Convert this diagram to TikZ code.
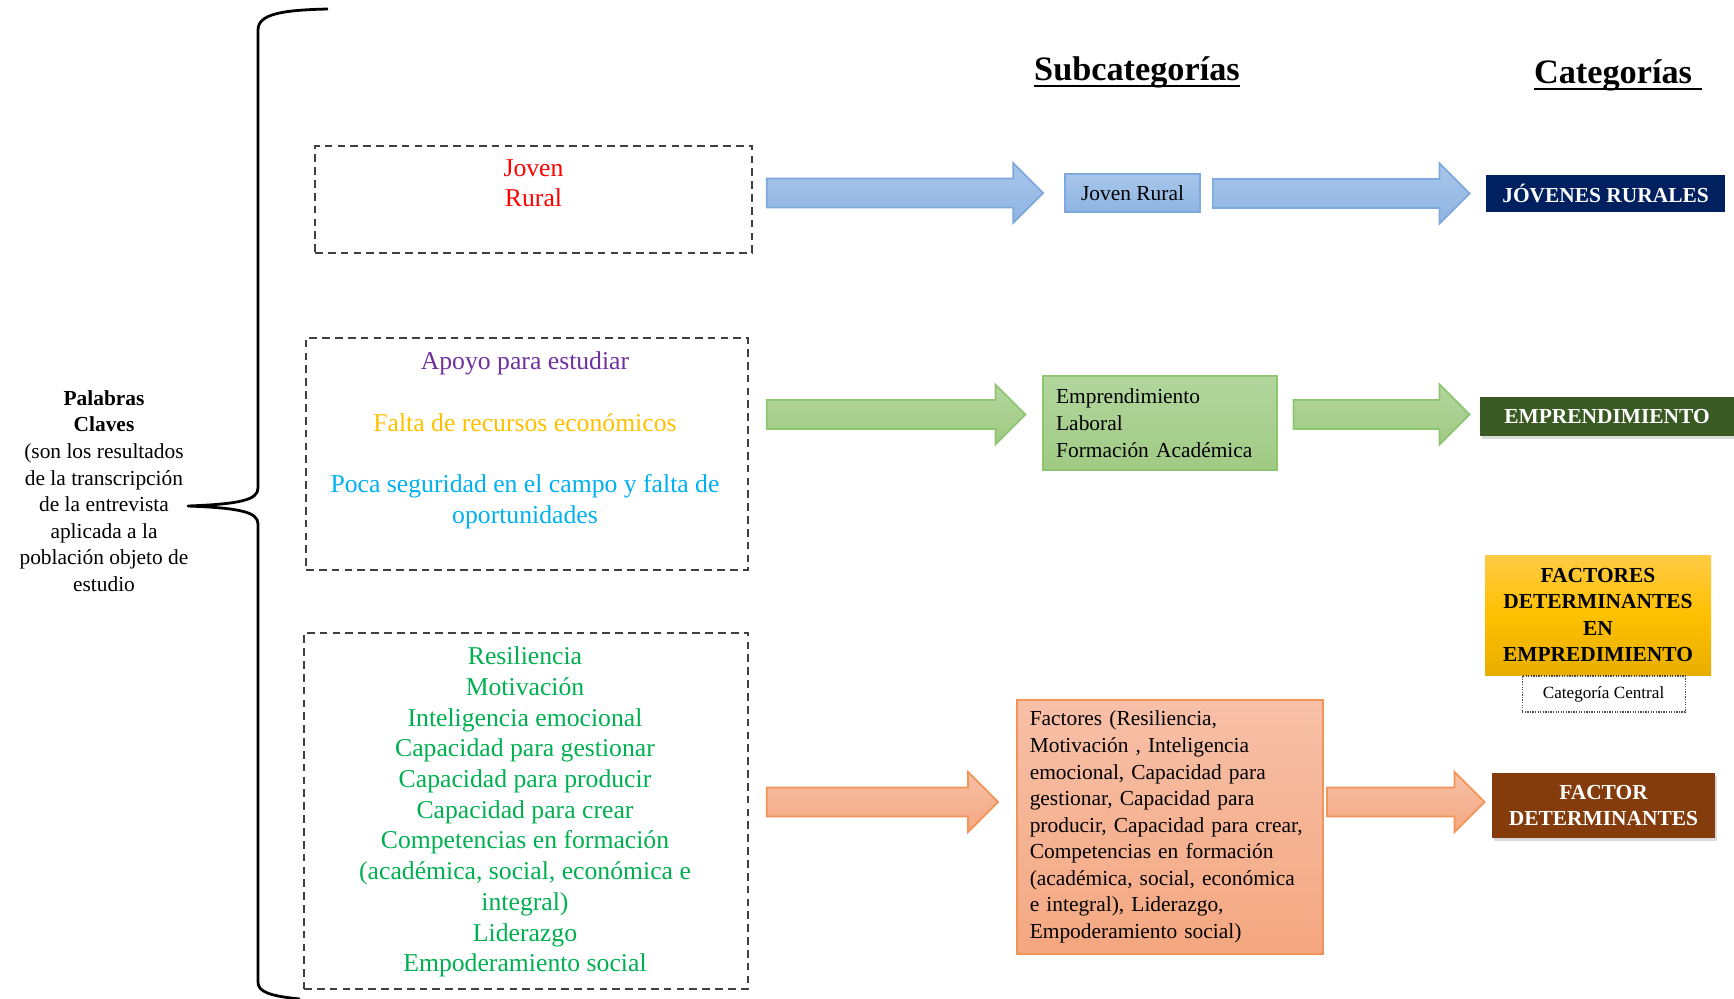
\documentclass[tikz,border=0pt]{standalone}
\usepackage{fontspec}
\setmainfont{Liberation Serif}
\usetikzlibrary{positioning,calc,fit,shadows}
\newcommand{\pxu}{0.467pt}
\definecolor{arrblue}{HTML}{A8C6EA}
\definecolor{arrbluedk}{HTML}{8EB4E2}
\definecolor{lineblue}{HTML}{7FA8DC}
\definecolor{arrgreen}{HTML}{B2D69D}
\definecolor{arrgreendk}{HTML}{A0CA84}
\definecolor{linegreen}{HTML}{8EC572}
\definecolor{arrsalmon}{HTML}{F7C0A8}
\definecolor{arrsalmondk}{HTML}{F4A780}
\definecolor{linesalmon}{HTML}{F29457}
\definecolor{catnavy}{HTML}{002060}
\definecolor{catgreen}{HTML}{3A5A24}
\definecolor{catbrown}{HTML}{843C0C}
\definecolor{catgold}{HTML}{FFC000}
\definecolor{catgoldlt}{HTML}{FFCB45}
\definecolor{catgolddk}{HTML}{E8AE00}
\definecolor{kwred}{HTML}{FF0000}
\definecolor{kwpurple}{HTML}{7030A0}
\definecolor{kwgold}{HTML}{FFC000}
\definecolor{kwcyan}{HTML}{00B0F0}
\definecolor{kwgreen}{HTML}{00B050}
\tikzset{
  title/.style={font=\fontsize{16}{19}\selectfont\bfseries, inner sep=0pt, anchor=base},
  dashbox/.style={draw=black!75, line width=0.7pt, dash pattern=on 3.6pt off 2.4pt, inner sep=0pt},
  kwtext/.style={align=center, inner sep=0pt, font=\fontsize{12}{14.4}\selectfont},
  lefttext/.style={align=center, inner sep=0pt, font=\fontsize{10}{12.4}\selectfont},
  subbox/.style={rectangle, line width=0.8pt, inner xsep=6pt, font=\fontsize{10}{12.5}\selectfont},
  catbox/.style={rectangle, text=white, align=center, inner sep=0pt, font=\fontsize{10}{12.4}\selectfont\bfseries},
  centralbox/.style={rectangle, draw=black!70, line width=0.5pt, dash pattern=on 0.6pt off 0.6pt, font=\fontsize{8}{10}\selectfont, inner sep=0pt},
  catshadow/.style={drop shadow={shadow xshift=1pt, shadow yshift=-1.5pt, opacity=0.3}},
  bluearrow/.style={draw=lineblue, line width=0.8pt, top color=arrblue, bottom color=arrbluedk},
  greenarrow/.style={draw=linegreen, line width=0.8pt, top color=arrgreen, bottom color=arrgreendk},
  salmonarrow/.style={draw=linesalmon, line width=0.8pt, top color=arrsalmon, bottom color=arrsalmondk}
}
\newcommand{\blockarrow}[3]{\path[#3] ($(#1)+(0,-14.5)$) -- ($(#2)+(-30,-14.5)$) -- ($(#2)+(-30,-30)$) -- (#2)
  -- ($(#2)+(-30,30)$) -- ($(#2)+(-30,14.5)$) -- ($(#1)+(0,14.5)$) -- cycle;}

\begin{document}
\begin{tikzpicture}[x=\pxu, y=-\pxu]
	\useasboundingbox (0,0) rectangle (1734,998);
	% titles
	\node[title] (subt) at (1137,80) {Subcategorías};
	\node[title] (catt) at (1613,83) {Categorías};
	\draw[line width=0.9pt] ($(subt.base west)+(0,6)$) -- ($(subt.base east)+(0,6)$);
	\draw[line width=0.9pt] ($(catt.base west)+(0,6)$) -- ($(catt.base east)+(10,6)$);
	% brace and key words
	\node[lefttext] (kwlab) at (104,491) {\textbf{Palabras}\\\textbf{Claves}\\(son los resultados\\de la transcripción\\de la entrevista\\aplicada a la\\población objeto de\\estudio};
	\draw[line width=1.3pt, line join=round] (328,9) .. controls (282,10) and (258,14) .. (258,30) -- (258,488)
		.. controls (258,500) and (240,504) .. (188,506) .. controls (240,508) and (258,512) .. (258,524)
		-- (258,982) .. controls (258,992) and (270,996) .. (300,999);
	\node[dashbox, fit={(315,146) (752,253)}] (kw1) {};
	\node[dashbox, fit={(306,338) (748,570)}] (kw2) {};
	\node[dashbox, fit={(304,633) (748,989)}] (kw3) {};
	\node[kwtext, text=kwred] (kw1t) at ($(kw1.north)+(0,38)$) {Joven\\Rural};
	\node[kwtext] (kw2t) at ($(kw2.north)+(-2,103)$) {\color{kwpurple}Apoyo para estudiar\\[14.4pt]\color{kwgold}Falta de recursos económicos\\[14.4pt]\color{kwcyan}Poca seguridad en el campo y falta de\\\color{kwcyan}oportunidades};
	\node[kwtext, text=kwgreen, font=\fontsize{12}{14.35}\selectfont] (kw3t) at ($(kw3.center)+(-1,1)$) {Resiliencia\\Motivación\\Inteligencia emocional\\Capacidad para gestionar\\Capacidad para producir\\Capacidad para crear\\Competencias en formación\\(académica, social, económica e\\integral)\\Liderazgo\\Empoderamiento social};
	% subcategories
	\node[subbox, draw=lineblue, top color=arrblue, bottom color=arrbluedk, minimum width={135*\pxu}, minimum height={38*\pxu}] (sub1) at (1132.5,193) {Joven Rural};
	\node[subbox, draw=linegreen, top color=arrgreen, bottom color=arrgreendk, text width=97pt, align=left, minimum height={94*\pxu}] (sub2) at (1160,423) {Emprendimiento\\Laboral\\Formación Académica};
	\node[subbox, draw=linesalmon, top color=arrsalmon, bottom color=arrsalmondk, text width=131pt, align=left, font=\fontsize{10}{12.4}\selectfont, minimum height={254*\pxu}] (sub3) at (1170,827) {Factores (Resiliencia,\\Motivación , Inteligencia\\emocional, Capacidad para\\gestionar, Capacidad para\\producir, Capacidad para crear,\\Competencias en formación\\(académica, social, económica\\e integral), Liderazgo,\\Empoderamiento social)};
	% categories
	\node[catbox, fill=catnavy, minimum width={239*\pxu}, minimum height={37*\pxu}] (cat1) at (1605.5,193.5) {JÓVENES RURALES};
	\node[catbox, fill=catgreen, catshadow, minimum width={254*\pxu}, minimum height={39*\pxu}] (cat2) at (1607,416.5) {EMPRENDIMIENTO};
	\node[catbox, text=black, top color=catgoldlt, bottom color=catgolddk, middle color=catgold, minimum width={226*\pxu}, minimum height={120*\pxu}] (cat3) at (1598,615) {FACTORES\\DETERMINANTES\\EN\\EMPREDIMIENTO};
	\node[centralbox, below=0pt of cat3, xshift=2.6pt, minimum width={163*\pxu}, minimum height={36*\pxu}] (catc) {Categoría Central};
	\node[catbox, fill=catbrown, catshadow, minimum width={223*\pxu}, minimum height={65*\pxu}] (cat4) at (1603.5,805.5) {FACTOR\\DETERMINANTES};
	% block arrows
	\coordinate (a1e) at ($(sub1.west)+(-21,0)$);
	\coordinate (a1s) at ($(kw1.east |- a1e)+(14,0)$);
	\coordinate (a2e) at ($(cat1.west)+(-16,0)$);
	\coordinate (a2s) at ($(sub1.east |- a2e)+(12,0)$);
	\coordinate (b1e) at ($(sub2.west |- cat2.west)+(-17,-2)$);
	\coordinate (b1s) at ($(kw2.east |- b1e)+(18,0)$);
	\coordinate (b2e) at ($(cat2.west)+(-10,-2)$);
	\coordinate (b2s) at ($(sub2.east |- b2e)+(16,0)$);
	\coordinate (c1e) at ($(sub3.west |- cat4.west)+(-18,-3.5)$);
	\coordinate (c1s) at ($(kw3.east |- c1e)+(18,0)$);
	\coordinate (c2e) at ($(cat4.west)+(-7,-3.5)$);
	\coordinate (c2s) at ($(sub3.east |- c2e)+(3,0)$);
	\blockarrow{a1s}{a1e}{bluearrow} \blockarrow{a2s}{a2e}{bluearrow}
	\blockarrow{b1s}{b1e}{greenarrow} \blockarrow{b2s}{b2e}{greenarrow}
	\blockarrow{c1s}{c1e}{salmonarrow} \blockarrow{c2s}{c2e}{salmonarrow}
\end{tikzpicture}
\end{document}
